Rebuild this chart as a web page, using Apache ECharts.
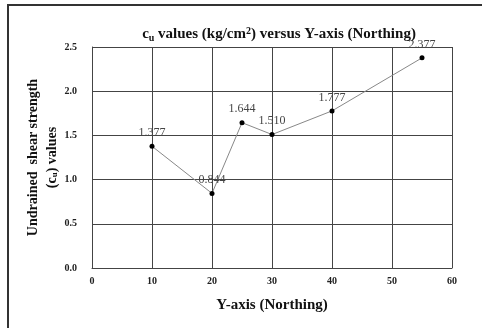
<!DOCTYPE html>
<html><head><meta charset="utf-8">
<script src="https://cdn.jsdelivr.net/npm/echarts@6/dist/echarts.min.js"></script>
<style>html,body{margin:0;padding:0;background:#fff}#c{width:482px;height:328px}</style>
</head><body><div id="c"></div>
<script>
var northing = [10, 20, 25, 30, 40, 55];
var cuValues = [1.377, 0.844, 1.644, 1.510, 1.777, 2.377];
var yTickLabels = ['0.0','0.5','1.0','1.5','2.0','2.5'];

var serif = '"Liberation Serif", "DejaVu Serif", serif';
var chart = echarts.init(document.getElementById('c'));
chart.setOption({
  animation: false,
  backgroundColor: '#fff',
  title: {
    text: '{a|c}{s|u}{a| values (kg/cm}{p|2}{a|) versus Y-axis (Northing)}',
    left: 274, top: 21, textAlign: 'center',
    textStyle: {
      rich: {
        a: {fontFamily: serif, fontWeight: 'bold', fontSize: 15, color: '#111'},
        s: {fontFamily: serif, fontWeight: 'bold', fontSize: 10, color: '#111', verticalAlign: 'bottom', padding: [7,0,0,0]},
        p: {fontFamily: serif, fontWeight: 'bold', fontSize: 10, color: '#111', verticalAlign: 'top', padding: [0,0,6,0]}
      }
    }
  },
  graphic: [{
    type: 'rect', shape: {x: 8, y: 5, width: 520, height: 400},
    style: {fill: 'none', stroke: '#333', lineWidth: 2}, silent: true
  }],
  grid: {left: 92, right: 30, top: 47, bottom: 60},
  xAxis: {
    type: 'value', min: 0, max: 60, interval: 10,
    name: 'Y-axis (Northing)', nameLocation: 'middle', nameGap: 30,
    nameTextStyle: {fontFamily: serif, fontWeight: 'bold', fontSize: 15, color: '#111'},
    axisLine: {lineStyle: {color: '#444', width: 1}},
    axisTick: {show: false},
    axisLabel: {fontFamily: serif, fontWeight: 'bold', fontSize: 10, color: '#222', margin: 8},
    splitLine: {show: true, lineStyle: {color: '#444', width: 1}}
  },
  yAxis: {
    type: 'value', min: 0, max: 2.5, interval: 0.5,
    name: '{a|Undrained  shear strength}\n{a|(c}{s|u}{a|) values}',
    nameLocation: 'middle', nameGap: 30, nameRotate: 90, nameMoveOverlap: false,
    nameTextStyle: {
      align: 'center', lineHeight: 19,
      rich: {
        a: {fontFamily: serif, fontWeight: 'bold', fontSize: 14, color: '#111', lineHeight: 19},
        s: {fontFamily: serif, fontWeight: 'bold', fontSize: 9, color: '#111', lineHeight: 19, padding: [5,0,0,0]}
      }
    },
    axisLine: {show: true, lineStyle: {color: '#444', width: 1}},
    axisTick: {show: false},
    axisLabel: {
      fontFamily: serif, fontWeight: 'bold', fontSize: 10, color: '#222', margin: 15,
      formatter: function (v) { return yTickLabels[Math.round(v / 0.5)]; }
    },
    splitLine: {show: true, lineStyle: {color: '#444', width: 1}}
  },
  series: [{
    type: 'line',
    data: northing.map(function (x, i) { return [x, cuValues[i]]; }),
    symbol: 'circle', symbolSize: 5,
    itemStyle: {color: '#000'},
    lineStyle: {color: '#888', width: 1},
    label: {
      show: true, position: 'top', distance: 5,
      fontFamily: serif, fontSize: 12, color: '#444',
      formatter: function (p) { return p.value[1].toFixed(3); }
    }
  }]
});
</script></body></html>
